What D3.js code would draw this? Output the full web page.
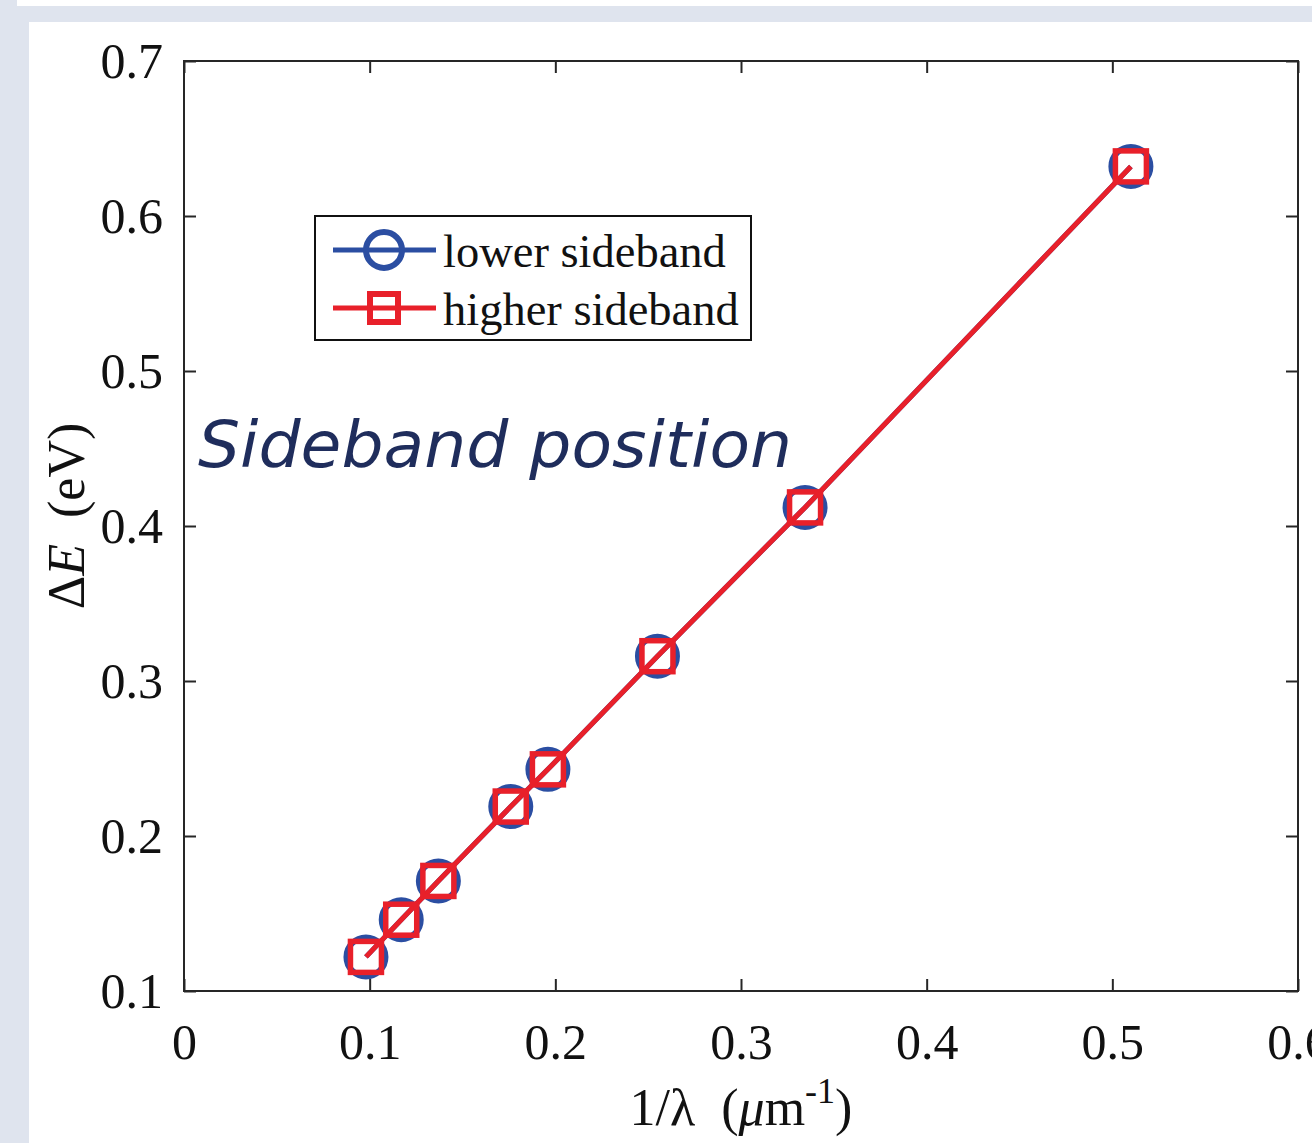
<!DOCTYPE html>
<html>
<head>
<meta charset="utf-8">
<script src="https://cdn.jsdelivr.net/npm/d3@7"></script>
<style>
  body { margin: 0; background: #dfe4ee; }
  svg { display: block; }
</style>
</head>
<body>
<script>
// Data
const invLambda = [0.098, 0.117, 0.137, 0.176, 0.196, 0.255, 0.3345, 0.510];
const lowerSideband = [0.122, 0.146, 0.171, 0.219, 0.243, 0.316, 0.412, 0.632];
const higherSideband = [0.122, 0.146, 0.171, 0.219, 0.243, 0.316, 0.412, 0.632];
const xTicks = [0, 0.1, 0.2, 0.3, 0.4, 0.5, 0.6];
const yTicks = [0.1, 0.2, 0.3, 0.4, 0.5, 0.6, 0.7];
const seriesNames = ["lower sideband", "higher sideband"];

const W = 1312, H = 1143;
const BLUE = "#2b4ea2", RED = "#e8202a";
const serif = "'Liberation Serif', 'Times New Roman', serif";

const svg = d3.select("body").append("svg")
    .attr("width", W)
    .attr("height", H);

// page background panels
svg.append("rect").attr("width", W).attr("height", H).attr("fill", "#dfe4ee");
svg.append("rect").attr("x", 17).attr("y", 0).attr("width", W - 17).attr("height", 6).attr("fill", "#fff");
svg.append("rect").attr("x", 29).attr("y", 22).attr("width", W - 29).attr("height", H - 22).attr("fill", "#fff");

const plot = { left: 184, top: 61, right: 1298, bottom: 991 };

const x = d3.scaleLinear().domain([0, 0.6]).range([plot.left, plot.right]);
const y = d3.scaleLinear().domain([0.1, 0.7]).range([plot.bottom, plot.top]);

// --- axes (ticks inward, on all four sides) ---
const tickLen = 12;
const axisColor = "#262626";

function styleAxis(g) {
    g.select(".domain").remove();
    g.selectAll(".tick line").attr("stroke", axisColor).attr("stroke-width", 2);
    g.selectAll(".tick text")
        .attr("fill", "#111")
        .style("font-family", serif)
        .style("font-size", "50px");
}

svg.append("g")
    .attr("transform", `translate(0,${plot.bottom})`)
    .call(d3.axisBottom(x).tickValues(xTicks).tickFormat(d3.format("")).tickSizeInner(-tickLen).tickPadding(32))
    .call(styleAxis)
    .selectAll(".tick text").attr("dy", "0.71em");

svg.append("g")
    .attr("transform", `translate(0,${plot.top})`)
    .call(d3.axisTop(x).tickValues(xTicks).tickFormat("").tickSizeInner(-tickLen))
    .call(styleAxis);

svg.append("g")
    .attr("transform", `translate(${plot.left},0)`)
    .call(d3.axisLeft(y).tickValues(yTicks).tickFormat(d3.format(".1f")).tickSizeInner(-tickLen).tickPadding(21))
    .call(styleAxis);

svg.append("g")
    .attr("transform", `translate(${plot.right},0)`)
    .call(d3.axisRight(y).tickValues(yTicks).tickFormat("").tickSizeInner(-tickLen))
    .call(styleAxis);

// frame
svg.append("rect")
    .attr("x", plot.left).attr("y", plot.top)
    .attr("width", plot.right - plot.left).attr("height", plot.bottom - plot.top)
    .attr("fill", "none").attr("stroke", axisColor).attr("stroke-width", 2);

// --- axis titles ---
const xTitle = svg.append("text")
    .attr("x", (plot.left + plot.right) / 2)
    .attr("y", 1125)
    .attr("text-anchor", "middle")
    .style("font-family", serif)
    .style("font-size", "52px")
    .style("white-space", "pre")
    .attr("fill", "#111");
xTitle.append("tspan").text("1/λ  (");
xTitle.append("tspan").attr("font-style", "italic").text("μ");
xTitle.append("tspan").text("m");
xTitle.append("tspan").attr("dy", -22).style("font-size", "36px").text("-1");
xTitle.append("tspan").attr("dy", 22).text(")");

const yTitle = svg.append("text")
    .attr("transform", `translate(84,516) rotate(-90)`)
    .attr("text-anchor", "middle")
    .style("font-family", serif)
    .style("font-size", "52px")
    .style("white-space", "pre")
    .attr("fill", "#111");
yTitle.append("tspan").text("Δ");
yTitle.append("tspan").attr("font-style", "italic").text("E");
yTitle.append("tspan").text("  (eV)");

// --- series ---
const lowerPts = invLambda.map((v, i) => [v, lowerSideband[i]]);
const higherPts = invLambda.map((v, i) => [v, higherSideband[i]]);
const line = d3.line().x(d => x(d[0])).y(d => y(d[1]));

svg.append("path").datum(lowerPts)
    .attr("d", line).attr("fill", "none").attr("stroke", BLUE).attr("stroke-width", 5);
svg.selectAll(".circ").data(lowerPts).enter().append("circle")
    .attr("class", "circ")
    .attr("cx", d => x(d[0])).attr("cy", d => y(d[1]))
    .attr("r", 19.5).attr("fill", "none").attr("stroke", BLUE).attr("stroke-width", 6);

svg.append("path").datum(higherPts)
    .attr("d", line).attr("fill", "none").attr("stroke", RED).attr("stroke-width", 5);
const sq = 31;
svg.selectAll(".sq").data(higherPts).enter().append("rect")
    .attr("class", "sq")
    .attr("x", d => x(d[0]) - sq / 2).attr("y", d => y(d[1]) - sq / 2)
    .attr("width", sq).attr("height", sq)
    .attr("fill", "none").attr("stroke", RED).attr("stroke-width", 5.5);

// --- legend ---
const legend = svg.append("g").attr("transform", "translate(315,216)");
legend.append("rect")
    .attr("width", 436).attr("height", 124)
    .attr("fill", "#fff").attr("stroke", "#111").attr("stroke-width", 2);

const legendRows = [
    { name: seriesNames[0], color: BLUE, marker: "circle", cy: 34 },
    { name: seriesNames[1], color: RED, marker: "square", cy: 92 }
];
legendRows.forEach(r => {
    legend.append("line")
        .attr("x1", 18).attr("x2", 121).attr("y1", r.cy).attr("y2", r.cy)
        .attr("stroke", r.color).attr("stroke-width", 5);
    if (r.marker === "circle") {
        legend.append("circle").attr("cx", 69).attr("cy", r.cy).attr("r", 18)
            .attr("fill", "none").attr("stroke", r.color).attr("stroke-width", 6);
    } else {
        legend.append("rect").attr("x", 69 - 14).attr("y", r.cy - 14).attr("width", 28).attr("height", 28)
            .attr("fill", "none").attr("stroke", r.color).attr("stroke-width", 6);
    }
    legend.append("text")
        .attr("x", 128).attr("y", r.cy + 17)
        .style("font-family", serif)
        .style("font-size", "46.5px")
        .attr("fill", "#111")
        .text(r.name);
});

// --- overlay annotation ---
svg.append("text")
    .attr("x", 198).attr("y", 467)
    .attr("textLength", 594)
    .attr("lengthAdjust", "spacingAndGlyphs")
    .style("font-family", "'DejaVu Sans', Verdana, sans-serif")
    .style("font-style", "italic")
    .style("font-size", "64px")
    .attr("fill", "#1f2d5c")
    .text("Sideband position");
</script>
</body>
</html>
